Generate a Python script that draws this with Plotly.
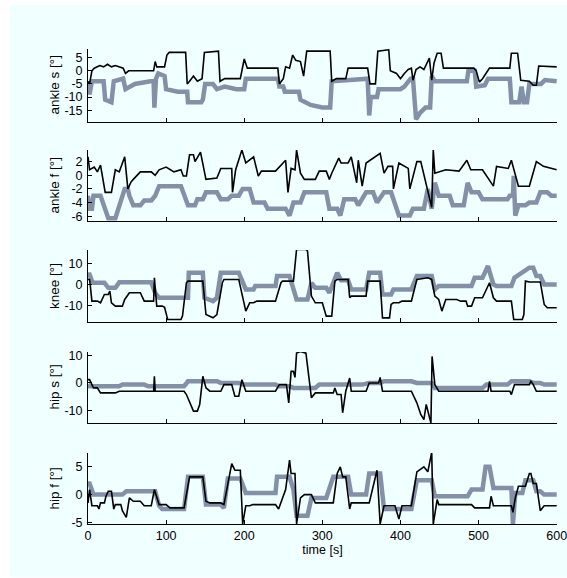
import plotly.graph_objects as go

# ---------------- data (time [s], angle [deg]) ----------------
ankle_s_black = [(0,-4),(2,-5),(5,0),(8,1),(15,2),(20,1.5),(25,2.5),(30,1.5),(35,2),(40,1.5),(45,1),(48,-1),(52,0),(84,0),(86,3.5),(88,1.5),(98,1.5),(101,6),(104,7),(125,7),(127,-5),(130,-4),(135,-2),(140,-4),(146,-3),(149,7),(167,7.5),(169,-4),(175,-3),(195,-3),(200,4.5),(204,1),(243,1),(245,-5),(250,-3),(253,1.5),(258,1),(262,6),(266,4),(272,3.5),(276,-2),(280,7.5),(310,7.5),(312,-4),(318,-3),(330,-3),(333,1),(358,1),(361,-5),(368,-5),(371,7.5),(385,8),(387,0),(395,-1),(400,-3),(405,-1),(410,0.5),(414,1),(416,-3.6),(420,0.5),(425,1.5),(430,0.5),(437,4.8),(440,-3.6),(443,3),(447,6.7),(452,6.7),(455,1),(494,1),(497,0),(501,-4.3),(505,-3),(514,1),(540,1),(542,6.7),(550,6.7),(554,-3.6),(565,-4),(570,-5.5),(574,-5.5),(577,1.8),(600,1.5)]
ankle_s_gray = [(0,-5),(2,-9),(5,-4),(20,-4),(22,-11),(30,-12),(33,-4),(45,-3),(48,-7),(55,-6),(60,-5),(80,-4),(84,-4),(85,-14),(87,-3),(90,-1),(98,-2),(100,-7),(115,-8),(127,-8),(128,-12),(145,-12),(147,-11),(150,-5),(160,-5),(165,-7),(175,-6),(190,-7),(200,-7),(202,-3),(243,-3),(245,-6),(250,-6),(252,-8),(270,-8),(272,-11),(285,-13),(300,-14),(310,-14),(312,-4),(355,-3),(358,-3),(360,-17),(362,-10),(370,-10),(372,-7),(400,-7),(405,-6),(413,-3),(416,-3),(420,-18.5),(425,-16),(432,-14),(438,-14),(440,-2),(444,-4),(485,-4),(487,0),(495,0),(497,-6),(508,-5.5),(512,-3),(540,-3),(542,-12),(552,-12),(555,-6),(558,-12),(562,-12),(565,-5),(580,-5),(585,-3.5),(600,-4)]

ankle_f_black = [(0,2.7),(2,0.8),(8,1.2),(12,0.5),(16,1.5),(20,-1),(22,-2.5),(30,-2.5),(35,0.8),(40,0.5),(47,2.7),(51,-2),(55,-1),(58,-0.6),(67,0.5),(81,0.5),(86,0),(91,0.8),(100,1.2),(110,0.5),(119,0.8),(122,-0.1),(126,-0.1),(130,3),(135,3),(137,2),(144,3.4),(151,-0.6),(165,-0.4),(170,1),(184,1),(185,-2.5),(189,0.8),(197,3.7),(202,1.8),(212,2.7),(218,-0.1),(222,0.6),(240,0.6),(253,2.2),(256,-2.5),(260,1),(265,0.8),(267,3.7),(272,0.3),(277,-0.6),(291,-0.6),(296,0.6),(305,0.6),(309,-0.6),(312,0.3),(321,2.5),(324,1.8),(333,1.8),(337,2.7),(344,-1.1),(346,2.2),(351,-1.6),(356,1.8),(374,3.2),(379,0.3),(384,1.3),(390,1.3),(391,-2),(398,1.8),(410,1),(412,-2),(421,2),(426,2),(440,-4.7),(442,3.7),(444,0.3),(458,0.8),(475,0.6),(485,2.2),(490,0.8),(505,0.8),(519,-1.6),(523,1.3),(538,1),(542,2.2),(551,-1.6),(565,-1.6),(574,2),(583,1.3),(600,0.8)]
ankle_f_gray = [(0,-3),(2,-4.9),(5,-4.9),(7,-3),(16,-3),(19,-4),(26,-6.3),(35,-6.3),(47,-2),(51,-2),(53,-3),(58,-4.4),(67,-4.4),(72,-3.7),(81,-3.7),(86,-3),(91,-1.6),(119,-1.6),(128,-4.4),(137,-4.4),(140,-3.5),(147,-3.5),(151,-2.5),(165,-2.5),(170,-3.5),(179,-3.5),(184,-3),(193,-3),(198,-2),(207,-2),(212,-4),(226,-4),(230,-4.9),(253,-4.9),(258,-5.9),(263,-4),(272,-4),(277,-2.5),(305,-2.5),(309,-4.9),(319,-4.9),(323,-5.9),(328,-3.5),(342,-3.5),(346,-4.4),(356,-2.5),(365,-2.5),(370,-4),(379,-2.5),(388,-2.5),(398,-5.9),(412,-5.9),(416,-4.9),(430,-4.9),(435,-2),(440,-4.9),(444,-1.1),(449,-3),(463,-3),(467,-4.4),(481,-4.4),(486,-1.1),(491,-2.5),(500,-2.5),(505,-3.5),(537,-3.5),(540,-3),(544,-3),(545,-0.1),(547,-5.9),(551,-4.4),(560,-4.4),(565,-4),(574,-4),(579,-2.5),(588,-2.5),(593,-3),(600,-3)]

knee_black = [(0,2.4),(2,2.4),(3,-0.8),(5,-8),(12,-8),(16,-8.8),(21,-4.8),(26,-4.8),(28,-3.2),(30,-8.8),(35,-10.4),(44,-10.4),(47,-7.2),(53,-4),(67,-4),(72,-8),(84,-8),(85,3.2),(88,-10.4),(95,-10.4),(98,-11),(102,-16.8),(119,-16.8),(121,-15),(126,0.8),(128,1.6),(147,1.6),(151,-14.4),(160,-16),(165,-14.4),(172,0.8),(174,2.4),(193,2.4),(202,-12.8),(207,-8.8),(212,-8.8),(216,-8),(240,-8),(247,0.8),(249,1.6),(263,1.6),(267,16.8),(279,16.8),(281,16),(286,-5.6),(291,-8.8),(300,-8.8),(302,-12),(305,-15.2),(312,-15.2),(316,1.6),(319,2.4),(333,2.4),(335,-6.4),(337,-5.6),(356,-5.6),(358,1.6),(374,1.6),(377,-16),(386,-16),(388,-9.6),(391,-8.8),(398,-8.8),(402,-8),(414,-8),(421,2.4),(435,3.2),(440,2.4),(444,-5.6),(449,-7.2),(453,-12.8),(458,-7.2),(472,-7.2),(477,-8),(484,-8),(486,-10.4),(491,-10.4),(495,-6.4),(505,-6.4),(514,0.8),(519,-6.4),(523,-8),(542,-8),(545,-16.8),(556,-16.8),(558,-14.4),(560,1.6),(565,1.2),(579,1.2),(584,-9.6),(588,-11.2),(600,-11.2)]
knee_gray = [(0,4.8),(2,4.8),(5,1.6),(7,0.8),(21,0.8),(26,-1.6),(35,-1.6),(40,1),(81,1),(86,-4),(91,-6.4),(128,-6.4),(129,5.6),(147,5.6),(149,-6.4),(160,-8),(165,-6.4),(170,5.6),(193,5.6),(202,-2.4),(212,-2.4),(214,-0.8),(240,-0.8),(242,4),(258,4),(260,1.6),(267,-7.2),(281,-7.2),(286,0.8),(291,-1.6),(305,-1.6),(309,-4),(319,5.6),(324,2),(333,2),(337,-2.4),(356,-2.4),(360,5.6),(374,5.6),(377,-4.8),(388,-4.8),(391,-2.4),(414,-2.4),(421,4),(440,4),(444,-2.4),(449,-0.8),(491,-0.8),(495,3.2),(505,3.2),(512,8.8),(519,0),(523,-0.8),(542,-0.8),(546,3.2),(565,8),(570,8),(574,4),(579,4),(584,0),(600,0)]

hip_s_black = [(0,1.2),(2,1.2),(7,-1.8),(12,-1.8),(16,-3.6),(35,-3.6),(40,-3),(84,-3),(85,2.4),(86,-3),(123,-3),(126,-4.2),(135,-10.2),(140,-10.2),(143,-7.8),(147,2.4),(151,-1.8),(156,-3),(170,-3),(174,-0.6),(184,-0.6),(188,-4.8),(193,-4.8),(197,1.2),(202,-3),(240,-3),(245,-0.6),(254,-0.6),(257,-7.2),(260,4.2),(263,4.2),(265,2),(267,10.8),(272,11.4),(279,10.8),(286,-5.4),(291,-3.6),(314,-3.6),(316,-1.8),(319,-4.2),(324,-4.2),(326,-10.8),(330,-3),(335,1.8),(337,-3),(356,-3),(360,0),(372,0),(374,2),(377,-3),(414,-3),(421,-7.2),(426,-11.4),(430,-13.3),(433,-7.8),(439,-14.5),(440.5,9.6),(444,-0.6),(449,-3),(512,-3),(514,0.6),(516,-3),(540,-3),(542,-4.2),(546,-0.6),(565,-0.6),(567,0.6),(570,-0.6),(574,-3),(600,-3)]
hip_s_gray = [(0,-0.6),(2,-1.2),(40,-1.2),(44,-0.6),(72,-0.6),(77,-1.2),(123,-1.2),(128,0.6),(165,0.6),(170,0),(193,0),(198,-0.6),(240,-0.6),(244,-1.2),(258,-1.2),(263,-1.8),(291,-1.8),(296,-0.6),(351,-0.6),(360,0),(374,0),(379,0.6),(414,0.6),(421,0),(440,0),(444,-1.8),(505,-1.8),(510,-0.6),(537,-0.6),(542,0.6),(565,0.6),(570,0),(579,0),(584,-0.6),(600,-0.6)]

hip_f_black = [(0,-1.5),(2,0.9),(5,-2),(12,-2),(14,-2.6),(16,-1.5),(21,-1.5),(23,-0.3),(26,0.6),(30,0.6),(33,-2.6),(35,-1.8),(42,-1.8),(44,-2.9),(49,-4.1),(53,-0.6),(58,-1.2),(67,-1.2),(72,-2),(81,-2),(85,0.9),(91,-1.8),(100,-1.8),(105,-2.4),(123,-2.4),(130,3.2),(147,3.2),(151,-1.2),(156,-1.5),(170,-1.5),(174,-1.8),(179,2),(184,5.6),(188,4.4),(195,4.4),(198,-5.3),(202,-2),(207,-2),(211,-1.8),(240,-1.8),(244,-2.6),(253,0.9),(258,6.2),(260,3.8),(265,3.8),(267,-5.3),(272,-0.6),(277,0),(286,0),(291,-1.5),(314,-1.5),(319,3.8),(323,5),(326,3.2),(330,3.2),(335,-2.6),(337,-1.5),(360,-1.5),(370,4.4),(374,-5.3),(379,-2),(393,-2),(398,-4.4),(402,-2),(414,-2),(421,4.1),(430,5),(435,4.1),(440,7.6),(442,-5.3),(447,-0.9),(449,-1.8),(491,-1.8),(495,-2.4),(514,-2.4),(516,-0.3),(519,-2),(542,-2),(544,-3.2),(547,-0.6),(551,1.5),(560,1.5),(565,3.8),(567,3.8),(570,2),(574,2),(579,-2.9),(584,-2),(600,-2)]
hip_f_gray = [(0,2),(2,2),(7,0),(44,0),(49,0.6),(86,0.6),(91,-2),(95,-2.6),(123,-2.6),(128,3.2),(147,3.2),(151,-1.8),(170,-1.8),(174,-2.4),(179,2.9),(195,2.9),(202,0.3),(240,0.3),(242,3.2),(258,3.2),(263,0.9),(267,-3.8),(281,-3.8),(286,-0.6),(305,-0.6),(314,3.2),(333,3.2),(337,0),(356,0),(360,3.8),(374,3.8),(379,-2.6),(414,-2.6),(421,2.6),(440,2.6),(444,-0.3),(486,-0.3),(491,0.9),(505,0.9),(509,5),(514,5),(519,1.2),(542,1.2),(544,-5.3),(547,0.3),(556,0.3),(560,2.6),(570,2.6),(574,0.6),(579,0.6),(584,0),(600,0)]

panel_labels = ["ankle s [°]", "ankle f [°]", "knee [°]", "hip s [°]", "hip f [°]"]
panel_black = [ankle_s_black, ankle_f_black, knee_black, hip_s_black, hip_f_black]
panel_gray = [ankle_s_gray, ankle_f_gray, knee_gray, hip_s_gray, hip_f_gray]
panel_yticks = [[-15, -10, -5, 0, 5], [-6, -4, -2, 0, 2], [-10, 0, 10], [-10, 0, 10], [-5, 0, 5]]
panel_yrange = [[-19.5, 8.3], [-6.7, 3.7], [-18, 16.5], [-14.5, 11.2], [-5.3, 7.5]]
x_ticks = [0, 100, 200, 300, 400, 500, 600]

# ---------------- layout geometry ----------------
W, H = 567, 578
ML, MR, MT, MB = 88, 10, 49, 54
plot_h = H - MT - MB
panel_px = [(49, 122), (150, 221), (250, 322), (352, 423), (453, 524)]

def py(p):
    return (H - MB - p) / plot_h

def px(p):
    return (p - ML) / (W - ML - MR)

BLACK = "#000000"
GRAY = "#8391A8"
BG = "#F0FFFF"
FONT = "Liberation Sans, Arial, sans-serif"

fig = go.Figure()
layout = dict(
    width=W, height=H,
    margin=dict(l=ML, r=MR, t=MT, b=MB, pad=0, autoexpand=False),
    paper_bgcolor="white",
    plot_bgcolor="rgba(0,0,0,0)",
    showlegend=False,
    font=dict(family=FONT, size=12.5, color="black"),
)

annotations = []
for i in range(5):
    n = "" if i == 0 else str(i + 1)
    xa, ya = "x" + n, "y" + n
    top, bot = panel_px[i]
    g = panel_gray[i]
    b = panel_black[i]
    fig.add_trace(go.Scatter(x=[p[0] for p in g], y=[p[1] for p in g], mode="lines",
                             line=dict(color=GRAY, width=4.5), xaxis=xa, yaxis=ya, hoverinfo="skip"))
    fig.add_trace(go.Scatter(x=[p[0] for p in b], y=[p[1] for p in b], mode="lines",
                             line=dict(color=BLACK, width=1.6), xaxis=xa, yaxis=ya, hoverinfo="skip"))
    layout["xaxis" + n] = dict(
        domain=[0, 1], range=[0, 600.4], anchor=ya,
        tickvals=x_ticks, ticktext=[str(v) for v in x_ticks],
        showticklabels=(i == 4), ticks="inside", ticklen=4, tickwidth=1, tickcolor="black",
        showline=True, linecolor="black", linewidth=1, mirror=False,
        showgrid=False, zeroline=False, ticklabeloverflow="allow",
        tickfont=dict(family=FONT, size=12.5),
    )
    if i == 4:
        layout["xaxis" + n]["title"] = dict(text="time [s]", font=dict(family=FONT, size=12.5), standoff=2)
    yt = panel_yticks[i]
    layout["yaxis" + n] = dict(
        domain=[py(bot), py(top)], range=panel_yrange[i], anchor=xa,
        tickvals=yt, ticktext=[str(v) for v in yt],
        ticks="inside", ticklen=4, tickwidth=1, tickcolor="black",
        showline=True, linecolor="black", linewidth=1, mirror=False,
        showgrid=False, zeroline=False, ticklabelstandoff=2,
        tickfont=dict(family=FONT, size=12.5),
    )
    annotations.append(dict(
        text=panel_labels[i], xref="paper", yref="paper",
        x=px(54), y=py((top + bot) / 2), xanchor="center", yanchor="middle",
        textangle=-90, showarrow=False, font=dict(family=FONT, size=13.5, color="black"),
    ))

layout["annotations"] = annotations
layout["shapes"] = [dict(type="rect", xref="paper", yref="paper", layer="below",
                         x0=px(10), x1=px(567), y0=py(577), y1=py(5),
                         fillcolor=BG, line=dict(width=0))]
fig.update_layout(**layout)
fig.write_html("out.html", config={"displayModeBar": False},
               post_script="document.body.style.margin='0';document.body.style.padding='0';")
